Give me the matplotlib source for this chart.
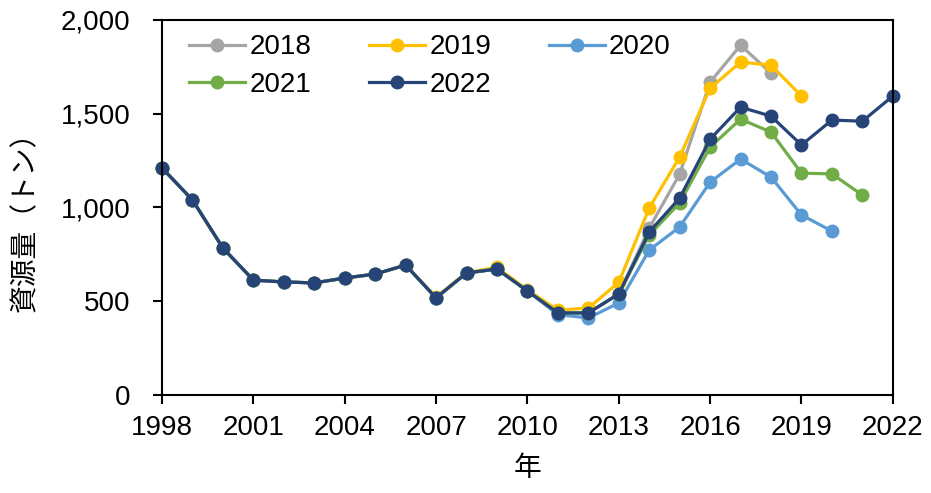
import matplotlib.pyplot as plt

plt.rcParams['font.family'] = ['Liberation Sans', 'Noto Sans CJK JP', 'DejaVu Sans']

years = list(range(1998, 2023))

common = [1210, 1039, 783, 612, 602, 597, 623, 644, 692, 517, 650, 671, 554]

y2018 = common + [437, 437, 538, 889, 1177, 1667, 1864, 1715]
y2019 = [1210, 1039, 783, 612, 602, 597, 623, 644, 692, 522, 652, 680, 560,
         452, 463, 600, 996, 1268, 1635, 1774, 1758, 1593]
y2020 = common + [428, 410, 490, 772, 895, 1134, 1257, 1161, 959, 873]
y2021 = common + [437, 437, 538, 852, 1023, 1321, 1470, 1401, 1182, 1178, 1065]
y2022 = common + [437, 437, 538, 868, 1049, 1363, 1534, 1486, 1332, 1465, 1459, 1593]

series = [
    ("2018", y2018, "#A5A5A5"),
    ("2019", y2019, "#FFC000"),
    ("2020", y2020, "#5B9BD5"),
    ("2021", y2021, "#70AD47"),
    ("2022", y2022, "#264478"),
]

fig = plt.figure(figsize=(9.31, 4.93), dpi=100)
ax = fig.add_axes([0.174, 0.199, 0.785, 0.761])

handles = {}
for name, vals, color in series:
    h, = ax.plot(years[:len(vals)], vals, color=color, marker="o",
                 markersize=9, linewidth=2.3, label=name, clip_on=False)
    handles[name] = h

ax.set_xlim(1998, 2022)
ax.set_ylim(0, 2000)
ax.set_xticks(range(1998, 2023, 3))
ax.set_yticks(range(0, 2001, 500))
ax.set_yticklabels([f"{v:,}" for v in range(0, 2001, 500)])
ax.tick_params(labelsize=20, direction="out", length=6.5, width=1.5)
ax.tick_params(axis="x", pad=8)
ax.tick_params(axis="y", pad=16)
for s in ax.spines.values():
    s.set_linewidth(1.5)

ax.set_ylabel("資源量（トン）", fontsize=20, family=['Noto Sans CJK JP'])
ax.yaxis.set_label_coords(-0.167, 0.48)
ax.set_xlabel("年", fontsize=20, family=['Noto Sans CJK JP'])
ax.xaxis.set_label_coords(0.5, -0.155)

order = ["2018", "2021", "2019", "2022", "2020"]
ax.legend([handles[k] for k in order], order, ncol=3, loc="upper left",
          frameon=False, fontsize=20, handlelength=2.0, columnspacing=2.1,
          labelspacing=0.42, handletextpad=0.15, borderaxespad=0.3,
          bbox_to_anchor=(0.011, 1.013))

fig.savefig("out.png", dpi=100)
